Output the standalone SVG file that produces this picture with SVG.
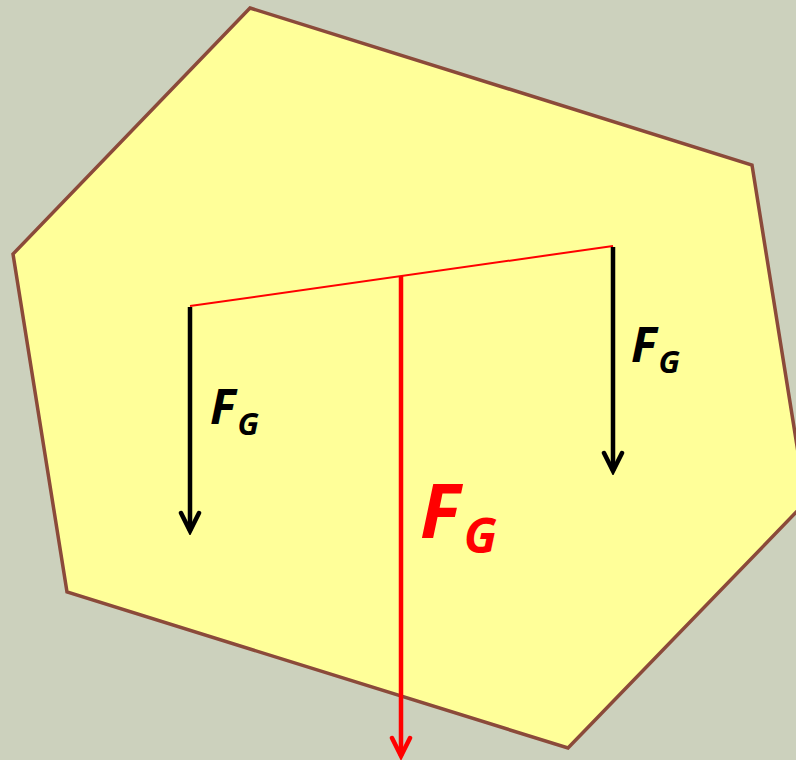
<svg xmlns="http://www.w3.org/2000/svg" width="796" height="760" viewBox="0 0 796 760">
<style>
.lbl{font-family:"Open Sans","DejaVu Sans",sans-serif;font-weight:bold;font-style:italic}
.blk{fill:#000}
.red{fill:#ff0000}
</style>
<defs>
<marker id="ab" markerUnits="userSpaceOnUse" viewBox="-24 -14 28 28" markerWidth="28" markerHeight="28" refX="0" refY="0" orient="auto">
<path d="M-18,-9 L0,0 L-18,9" fill="none" stroke="#000" stroke-width="4.5" stroke-linecap="round" stroke-linejoin="miter"/>
</marker>
<marker id="ar" markerUnits="userSpaceOnUse" viewBox="-24 -14 28 28" markerWidth="28" markerHeight="28" refX="0" refY="0" orient="auto">
<path d="M-18,-9 L0,0 L-18,9" fill="none" stroke="#ff0000" stroke-width="4.5" stroke-linecap="round" stroke-linejoin="miter"/>
</marker>
</defs>
<rect width="796" height="760" fill="#ccd1bd"/>
<g id="body">
<polygon points="250,8 752,165 806,502 568,748 67,592 13,254" fill="#ffff99" stroke="#8b4a3a" stroke-width="3.5"/>
</g>
<g id="connectors">
<line x1="190" y1="306" x2="613" y2="246" stroke="#ff0000" stroke-width="2"/>
<line x1="190" y1="307" x2="190" y2="531" stroke="#000" stroke-width="4.5" marker-end="url(#ab)"/>
<line x1="613" y1="247" x2="613" y2="471" stroke="#000" stroke-width="4.5" marker-end="url(#ab)"/>
<line x1="401" y1="276" x2="401" y2="756" stroke="#ff0000" stroke-width="4.5" marker-end="url(#ar)"/>
</g>
<g id="label-left">
<text class="lbl blk" x="210" y="424" font-size="48">F<tspan font-size="31" dx="2" dy="11">G</tspan></text>
</g>
<g id="label-right">
<text class="lbl blk" x="631" y="362" font-size="48">F<tspan font-size="31" dx="2" dy="11">G</tspan></text>
</g>
<g id="label-center">
<text class="lbl red" x="420" y="538" font-size="75">F<tspan font-size="48" dx="4" dy="15">G</tspan></text>
</g>
</svg>
